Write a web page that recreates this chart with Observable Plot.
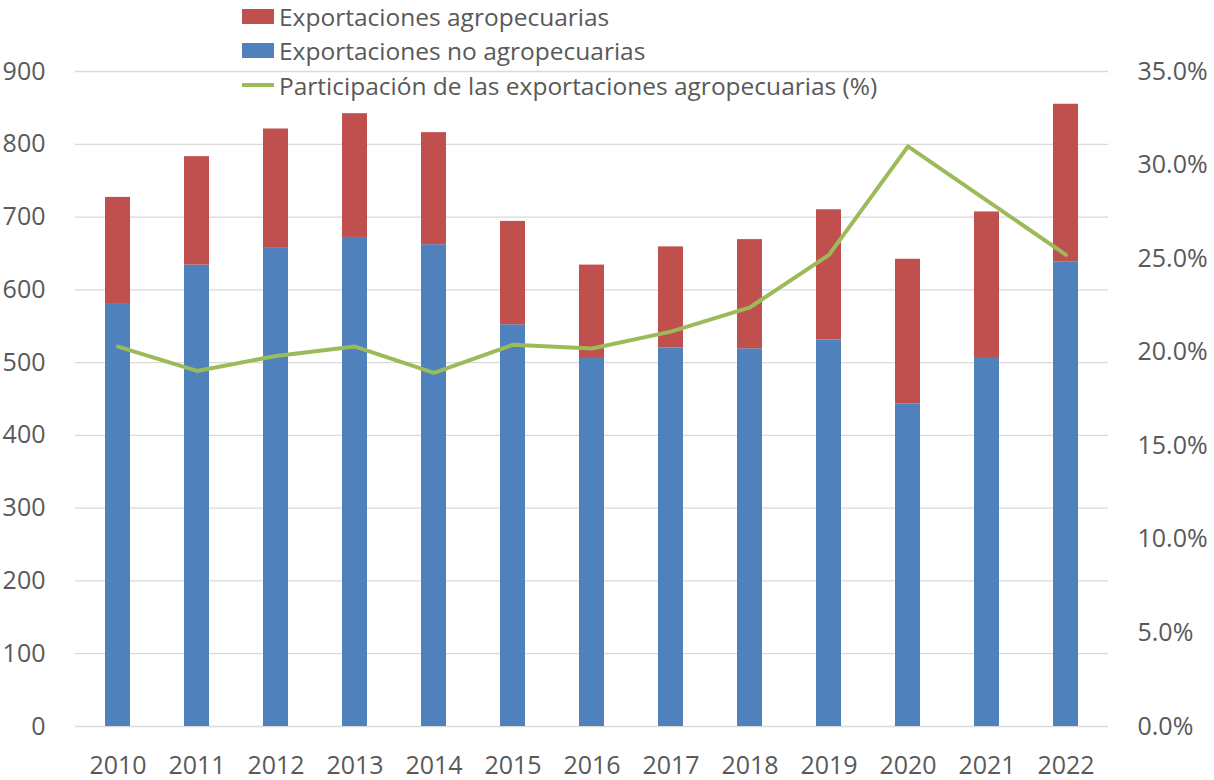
<!DOCTYPE html>
<html>
<head>
<meta charset="utf-8">
<script src="https://cdn.jsdelivr.net/npm/d3@7"></script>
<script src="https://cdn.jsdelivr.net/npm/@observablehq/plot@0.6"></script>
<style>
  html, body { margin: 0; padding: 0; background: #fff; }
  #wrap { position: relative; width: 1214px; height: 780px; font-family: "Open Sans", sans-serif; }
  #legend { position: absolute; left: 242px; top: 0; color: #595959; font-size: 24.5px; }
  .row { position: absolute; left: 0; height: 34px; display: flex; align-items: center; white-space: nowrap; }
  .sw { width: 32px; height: 15px; margin-right: 5px; flex: none; }
  .ln { width: 32px; height: 4px; margin-right: 5px; flex: none; }
</style>
</head>
<body>
<div id="wrap">
  <div id="chart"></div>
  <div id="legend"></div>
</div>
<script>
const years = ["2010","2011","2012","2013","2014","2015","2016","2017","2018","2019","2020","2021","2022"];
const agro    = [147, 149, 164, 170, 154, 142, 127, 139, 150, 179, 199, 200, 217];
const noAgro  = [580, 634, 657, 672, 662, 552, 507, 520, 519, 531, 443, 507, 638];
const share   = [20.3, 19.0, 19.8, 20.3, 18.9, 20.4, 20.2, 21.1, 22.4, 25.2, 31.0, 28.1, 25.2];
const leftTicks = [0, 100, 200, 300, 400, 500, 600, 700, 800, 900];
const rightTicks = [0, 5, 10, 15, 20, 25, 30, 35];

const seriesNames = ["Exportaciones no agropecuarias", "Exportaciones agropecuarias"];
const seriesColors = ["#4F81BD", "#C0504D"];
const lineName = "Participación de las exportaciones agropecuarias (%)";
const lineColor = "#9BBB59";

const yMax = 900, pMax = 35;
const toLeft = p => p * yMax / pMax;

const bars = [];
years.forEach((y, i) => bars.push({year: y, series: seriesNames[0], value: noAgro[i]}));
years.forEach((y, i) => bars.push({year: y, series: seriesNames[1], value: agro[i]}));
const line = years.map((y, i) => ({year: y, pct: share[i]}));

const chart = Plot.plot({
  width: 1214,
  height: 780,
  marginTop: 71,
  marginBottom: 54,
  marginLeft: 75,
  marginRight: 106,
  style: { fontFamily: "'Open Sans', sans-serif", fontSize: "25px", color: "#595959", background: "#fff" },
  x: { domain: years, paddingInner: 0.685, paddingOuter: 0.3425, label: null },
  y: { domain: [0, yMax], label: null },
  color: { domain: seriesNames, range: seriesColors },
  marks: [
    Plot.gridY(leftTicks, { stroke: "#d9d9d9", strokeOpacity: 1, strokeWidth: 1.3 }),
    Plot.barY(bars, { x: "year", y: "value", fill: "series", order: seriesNames }),
    Plot.line(line, { x: "year", y: d => toLeft(d.pct), stroke: lineColor, strokeWidth: 4, strokeLinejoin: "round" }),
    Plot.axisY(leftTicks, { anchor: "left", tickSize: 0, tickPadding: 30, label: null, fill: "#595959" }),
    Plot.axisY(rightTicks.map(toLeft), { anchor: "right", tickSize: 0, tickPadding: 29, label: null, fill: "#595959",
      tickFormat: v => (v * pMax / yMax).toFixed(1) + "%" }),
    Plot.axisX({ tickSize: 0, tickPadding: 30, label: null, fill: "#595959" })
  ]
});
document.getElementById("chart").appendChild(chart);

const legend = document.getElementById("legend");
const items = [
  { name: seriesNames[1], color: seriesColors[1], kind: "sw", top: -1 },
  { name: seriesNames[0], color: seriesColors[0], kind: "sw", top: 33 },
  { name: lineName, color: lineColor, kind: "ln", top: 68 }
];
items.forEach(it => {
  const row = document.createElement("div");
  row.className = "row";
  row.style.top = it.top + "px";
  const s = document.createElement("span");
  s.className = it.kind;
  s.style.background = it.color;
  row.appendChild(s);
  const t = document.createElement("span");
  t.textContent = it.name;
  row.appendChild(t);
  legend.appendChild(row);
});
</script>
</body>
</html>
